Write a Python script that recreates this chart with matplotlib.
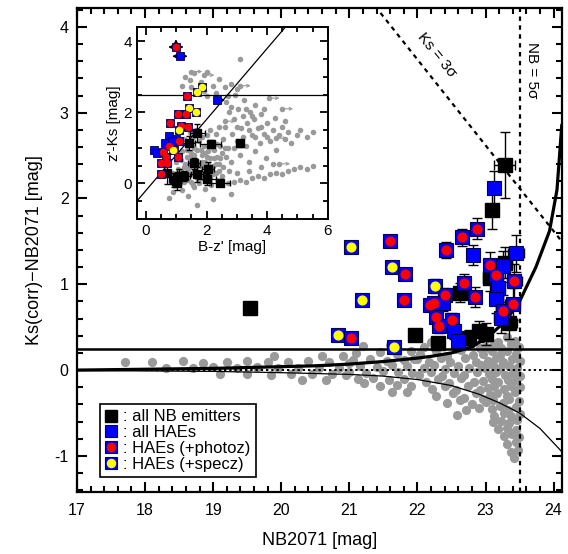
import numpy as np
import matplotlib.pyplot as plt
from matplotlib.ticker import MultipleLocator
from matplotlib.lines import Line2D

plt.rcParams['font.family'] = ['Liberation Sans', 'DejaVu Sans']
plt.rcParams['axes.unicode_minus'] = False

# ---- main panel data (NB2071 vs Ks-NB2071) ----
# field galaxies (grey)
grey_main = np.array([
    # bright end, NB < 21
    (17.7, 0.10), (18.1, 0.09), (18.3, 0.03), (18.55, 0.11), (18.7, 0.02), (18.85, 0.08),
    (19.0, 0.04), (19.1, -0.05), (19.2, 0.10), (19.35, 0.02), (19.5, 0.11), (19.5, -0.04),
    (19.65, 0.04), (19.8, 0.09), (19.85, -0.06), (19.9, 0.17), (19.95, 0.02), (20.1, 0.10),
    (20.15, -0.05), (20.25, 0.03), (20.3, -0.12), (20.4, 0.11), (20.45, -0.04), (20.55, 0.02),
    (20.6, 0.17), (20.65, -0.12), (20.7, 0.09), (20.75, -0.05), (20.85, 0.03), (20.9, 0.16),
    (20.95, -0.06), (21.0, 0.08),
    # 21 - 22
    (21.1, 0.20), (21.45, 0.21), (21.7, 0.19), (21.9, 0.22), (21.05, 0.12), (21.3, 0.13),
    (21.55, 0.11), (21.8, 0.12), (21.95, 0.13), (21.15, 0.05), (21.4, 0.04), (21.62, 0.06),
    (21.85, 0.05), (21.0, -0.02), (21.25, -0.03), (21.5, -0.01), (21.72, -0.02), (21.92, -0.03),
    (21.12, -0.10), (21.35, -0.09), (21.58, -0.11), (21.8, -0.10), (21.45, -0.18), (21.7, -0.17),
    (21.9, -0.19), (21.62, -0.26), (21.85, -0.25), (21.2, 0.28), (21.6, 0.29), (21.22, -0.15),
    # 22 - 23
    (22.1, 0.27), (22.33, 0.31), (22.57, 0.25), (22.73, 0.32), (22.92, 0.26),
    (22.04, 0.19), (22.27, 0.22), (22.43, 0.17), (22.64, 0.23), (22.82, 0.18),
    (22.0, 0.13), (22.17, 0.10), (22.34, 0.14), (22.48, 0.09), (22.7, 0.14), (22.86, 0.10),
    (22.09, 0.02), (22.24, 0.06), (22.41, 0.01), (22.6, 0.05), (22.76, 0.02), (22.93, 0.06),
    (22.03, -0.06), (22.2, -0.02), (22.36, -0.07), (22.54, -0.03), (22.68, -0.06), (22.88, -0.02),
    (22.12, -0.14), (22.3, -0.10), (22.47, -0.15), (22.64, -0.09), (22.83, -0.14),
    (22.22, -0.22), (22.4, -0.18), (22.57, -0.23), (22.74, -0.18), (22.92, -0.23),
    (22.28, -0.30), (22.52, -0.27), (22.68, -0.32), (22.86, -0.27),
    (22.43, -0.38), (22.62, -0.35), (22.8, -0.40), (22.97, -0.34), (22.72, -0.47), (22.9, -0.44),
    (22.58, -0.52), (22.2, 0.33), (22.95, 0.37),
    # 23 - 23.5, dense faint end
    (23.04, 0.37), (23.19, 0.33), (23.31, 0.39), (23.43, 0.34),
    (23.0, 0.27), (23.13, 0.30), (23.23, 0.26), (23.37, 0.30), (23.49, 0.27),
    (22.97, 0.19), (23.09, 0.22), (23.21, 0.18), (23.31, 0.22), (23.45, 0.19),
    (23.03, 0.11), (23.15, 0.14), (23.25, 0.10), (23.39, 0.13), (23.5, 0.11),
    (22.99, 0.03), (23.11, 0.06), (23.21, 0.02), (23.35, 0.05), (23.46, 0.03),
    (23.05, -0.05), (23.15, -0.02), (23.29, -0.06), (23.41, -0.03), (23.51, -0.07),
    (22.96, -0.13), (23.09, -0.10), (23.19, -0.14), (23.33, -0.11), (23.45, -0.12),
    (23.03, -0.21), (23.13, -0.19), (23.27, -0.22), (23.37, -0.18), (23.5, -0.20),
    (23.07, -0.29), (23.17, -0.27), (23.31, -0.30), (23.43, -0.26),
    (23.01, -0.37), (23.11, -0.35), (23.25, -0.38), (23.35, -0.34), (23.49, -0.36),
    (23.09, -0.45), (23.21, -0.42), (23.33, -0.46), (23.45, -0.43),
    (23.13, -0.53), (23.27, -0.50), (23.37, -0.54), (23.5, -0.51),
    (23.11, -0.61), (23.23, -0.59), (23.35, -0.62), (23.47, -0.58),
    (23.19, -0.69), (23.31, -0.67), (23.45, -0.70),
    (23.27, -0.77), (23.39, -0.75), (23.49, -0.78),
    (23.31, -0.86), (23.45, -0.84), (23.37, -0.95), (23.48, -0.93), (23.42, -1.03),
])

hae_x = [22.88, 22.66, 22.42, 22.81, 21.60, 21.63, 21.82, 21.81, 21.65, 22.26, 22.41, 22.37,
         22.18, 22.25, 22.28, 22.31, 22.51, 22.54, 22.60, 22.69, 22.84, 23.07, 23.16, 23.26,
         23.45, 23.42, 23.19, 23.16, 23.40, 23.26, 23.23, 21.19, 20.84, 21.02, 21.03, 23.13]
hae_y = [1.65, 1.55, 1.40, 1.34, 1.50, 1.20, 1.12, 0.82, 0.27, 0.98, 0.87, 0.78,
         0.76, 0.78, 0.62, 0.51, 0.58, 0.45, 0.34, 1.01, 0.85, 1.22, 1.11, 1.21,
         1.36, 1.04, 0.96, 0.83, 0.77, 0.69, 0.61, 0.82, 0.41, 0.37, 1.44, 2.12]
hae_type = ['p', 'p', 'p', 'n', 'p', 's', 'p', 'p', 's', 's', 'p', 'n',
            'p', 'p', 'p', 'p', 'p', 'n', 'n', 'p', 'p', 'p', 'p', 'n',
            'n', 'p', 'n', 'n', 'p', 'p', 'n', 's', 's', 'p', 's', 'n']
hae_xerr = [0.08, 0.06, 0.05, 0.07, 0.02, 0.02, 0.03, 0.03, 0.02, 0.04, 0.05, 0.05,
            0.04, 0.04, 0.04, 0.05, 0.05, 0.05, 0.06, 0.06, 0.07, 0.09, 0.09, 0.10,
            0.12, 0.11, 0.10, 0.09, 0.11, 0.10, 0.10, 0.02, 0.01, 0.02, 0.02, 0.08]
hae_yerr = [0.12, 0.10, 0.09, 0.12, 0.04, 0.04, 0.05, 0.05, 0.03, 0.08, 0.09, 0.09,
            0.07, 0.07, 0.07, 0.08, 0.09, 0.09, 0.10, 0.11, 0.12, 0.16, 0.17, 0.18,
            0.22, 0.20, 0.17, 0.16, 0.19, 0.18, 0.18, 0.03, 0.02, 0.03, 0.04, 0.20]

nb_x = [19.54, 21.97, 22.30, 22.76, 22.91, 22.62, 23.06, 23.29, 23.28, 23.10, 23.00, 23.35]
nb_y = [0.72, 0.41, 0.31, 0.37, 0.45, 0.90, 1.07, 1.25, 2.39, 1.86, 0.42, 0.55]
nb_xerr = [0.01, 0.03, 0.04, 0.06, 0.07, 0.06, 0.09, 0.10, 0.16, 0.09, 0.08, 0.11]
nb_yerr = [0.02, 0.05, 0.06, 0.10, 0.12, 0.11, 0.15, 0.18, 0.38, 0.22, 0.13, 0.19]

# 3-sigma colour-excess curves
sig_up_x = [17.0, 18.0, 19.0, 20.0, 20.5, 21.0, 21.5, 22.0, 22.2, 22.5, 22.8, 23.06, 23.3,
            23.5, 23.74, 23.94, 24.05, 24.12]
sig_up_y = [0.0, 0.01, 0.02, 0.04, 0.05, 0.07, 0.10, 0.14, 0.16, 0.20, 0.27, 0.40, 0.58,
            0.80, 1.20, 1.62, 2.10, 2.85]
sig_lo_x = [17.0, 19.0, 20.0, 21.0, 21.5, 22.0, 22.5, 22.9, 23.2, 23.5, 23.8, 24.12]
sig_lo_y = [-0.005, -0.015, -0.03, -0.05, -0.07, -0.11, -0.18, -0.28, -0.38, -0.50, -0.68, -0.95]
ew_cut = 0.25
nb_lim = 23.5
ks_lim = 25.62

# ---- inset data (B-z' vs z'-Ks) ----
grey_in = np.array([
    (0.9, 0.3), (1.0, 0.6), (1.1, 0.1), (1.2, 0.9), (1.25, 0.45), (1.3, 0.2), (1.35, 0.75),
    (1.4, 1.1), (1.45, 0.5), (1.5, 0.05), (1.5, 0.85), (1.55, 1.3), (1.6, 0.35), (1.65, 0.65),
    (1.7, 0.95), (1.7, 0.15), (1.75, 1.2), (1.8, 0.5), (1.85, 0.8), (1.9, 0.25), (1.9, 1.05),
    (1.95, 0.6), (2.0, 1.35), (2.0, 0.4), (2.05, 0.9), (2.1, 0.15), (2.1, 0.7), (2.15, 1.15),
    (2.2, 0.5), (2.25, 0.95), (2.3, 0.3), (2.3, 1.4), (2.35, 0.75), (2.4, 0.55), (2.45, 1.05),
    (2.5, 0.2), (2.5, 0.85), (2.55, 1.25), (1.2, -0.2), (1.4, -0.35), (1.6, -0.1), (0.9, -0.25),
    (1.05, 0.85), (1.15, 0.35), (1.3, 0.55), (1.45, 0.25), (1.55, 0.7), (1.65, 0.45),
    (1.75, 0.3), (1.85, 0.6), (1.95, 0.1), (2.05, 0.55), (2.15, 0.35), (2.25, 0.7), (1.35, 0.95),
    (1.6, 1.0), (1.8, 0.15), (2.0, 0.75), (2.2, 1.0), (2.4, 0.35),
    (1.15, 0.65), (1.25, 0.05), (1.4, 0.4), (1.5, 0.6), (1.6, 0.8), (1.7, 0.55), (1.8, 0.95),
    (1.9, 0.45), (2.0, 0.2), (2.1, 1.05), (2.2, 0.25), (2.3, 0.55), (2.35, 1.1), (2.45, 0.7),
    (2.55, 0.45), (2.6, 1.0), (1.35, 0.1), (1.55, -0.05), (1.75, 0.0), (1.95, -0.15),
    (2.15, -0.05), (1.25, 1.25), (1.45, 1.45), (1.65, 1.5), (1.85, 1.3), (2.1, 1.5),
    (2.4, 1.6), (2.65, 0.75), (2.75, 0.35), (1.05, 0.4), (1.45, 0.75), (1.95, 0.85),
    (2.6, 1.6), (2.7, 1.0), (2.75, 2.0), (2.8, 0.6), (2.85, 1.4), (2.9, 1.8), (3.0, 1.2),
    (3.05, 2.1), (3.1, 0.8), (3.15, 1.55), (3.2, 1.9), (3.3, 1.05), (3.35, 1.7), (3.4, 0.6),
    (3.45, 2.0), (3.5, 1.35), (3.55, 1.8), (3.6, 0.9), (3.7, 1.55), (3.75, 1.15), (3.8, 1.95),
    (3.9, 1.4), (3.95, 0.7), (4.0, 1.7), (4.1, 1.2), (4.2, 1.5), (4.3, 0.95), (4.4, 1.35),
    (4.5, 1.6), (4.6, 1.25), (4.7, 1.45), (4.8, 1.15), (5.0, 1.35), (5.1, 1.5), (5.3, 1.3),
    (5.5, 1.45), (2.65, 2.3), (2.95, 2.5), (3.25, 2.35), (3.6, 2.2), (3.9, 2.1), (4.25, 1.85),
    (4.6, 1.75), (2.9, 1.0), (3.0, 1.6), (3.2, 1.3), (3.4, 1.5), (3.6, 1.3), (3.8, 1.6),
    (4.0, 1.3), (3.3, 2.1), (3.5, 1.9), (2.8, 2.15),
    (1.3, 3.0), (1.45, 2.9), (1.6, 3.1), (1.8, 2.85), (2.0, 3.15), (2.2, 2.75), (2.4, 2.95),
    (2.6, 2.7), (2.8, 2.8), (1.5, 2.7), (1.9, 2.6), (2.3, 2.55), (3.1, 3.5), (2.0, 2.45),
    (1.2, 2.75), (2.7, 2.45), (3.0, 2.65),
    (2.7, 0.0), (2.9, 0.05), (3.1, 0.1), (3.3, 0.05), (3.5, 0.15), (3.7, 0.2), (3.9, 0.15),
    (4.1, 0.25), (4.3, 0.3), (4.5, 0.25), (4.7, 0.35), (4.9, 0.4), (5.1, 0.45), (5.3, 0.4),
    (5.5, 0.5), (3.0, 0.3), (3.4, 0.35), (3.8, 0.45), (4.2, 0.55), (2.8, -0.3), (2.2, -0.45),
    (1.7, -0.6), (0.75, -0.4),
])
# grey objects with only a lower limit on B-z'
arrow_in = np.array([
    (1.5, 3.15), (1.9, 3.05), (3.1, 2.75), (4.05, 2.4), (4.5, 2.1), (4.3, 1.27),
    (4.4, 0.55), (2.6, 1.75),
])

in_nb_x = [1.70, 1.42, 2.14, 3.10, 1.59, 2.05, 1.68, 1.10, 1.24, 0.91, 1.02, 2.00, 2.46, 0.71]
in_nb_y = [1.41, 1.13, 1.11, 1.13, 0.56, 0.40, 0.25, 0.21, 0.21, 0.09, 0.02, 0.11, 0.02, 0.28]
in_nb_xerr = [0.25, 0.2, 0.35, 0.1, 0.2, 0.2, 0.2, 0.2, 0.2, 0.15, 0.15, 0.3, 0.3, 0.3]
in_nb_yerr = [0.25, 0.2, 0.1, 0.1, 0.15, 0.2, 0.2, 0.2, 0.15, 0.2, 0.2, 0.15, 0.1, 0.3]

in_hae_x = [0.99, 1.12, 1.86, 1.70, 1.37, 2.35, 1.42, 1.64, 1.07, 1.31, 0.79, 1.15, 1.39,
            1.10, 1.10, 0.77, 0.93, 0.88, 0.27, 0.38, 0.55, 0.66, 1.06, 0.49, 0.71, 0.49,
            0.77, 0.62, 1.00, 0.85]
in_hae_y = [3.84, 3.58, 2.71, 2.57, 2.47, 2.35, 2.12, 2.00, 1.96, 1.96, 1.69, 1.62, 1.60,
            1.51, 1.18, 1.05, 0.94, 0.94, 0.94, 0.85, 0.87, 0.75, 0.75, 0.56, 0.58, 0.26,
            1.32, 1.15, 1.25, 1.20]
in_hae_type = ['p', 'n', 's', 's', 'p', 'n', 's', 's', 'p', 'p', 'p', 'p', 'p',
               's', 'p', 'p', 'p', 's', 'n', 'n', 'p', 'p', 'p', 'p', 'p', 'p',
               'n', 'n', 'n', 'n']

fill_col = {'p': 'red', 's': 'yellow'}

fig = plt.figure(figsize=(5.68, 5.54), dpi=100)
ax = fig.add_axes([0.1356, 0.112, 0.8534, 0.8736])

ax.scatter(grey_main[:, 0], grey_main[:, 1], s=44, color='#9a9a9a', lw=0, zorder=1)

ax.plot(sig_up_x, sig_up_y, color='k', lw=2.3, zorder=2)
ax.plot(sig_lo_x, sig_lo_y, color='k', lw=0.9, zorder=2)
ax.axhline(ew_cut, color='k', lw=1.8, zorder=2)
ax.axhline(0, color='k', lw=1.4, ls=(0, (1.2, 1.5)), zorder=2)
ax.axvline(nb_lim, color='k', lw=1.6, ls=(0, (2, 2)), zorder=2)
xx = np.array([17, 24.2])
ax.plot(xx, ks_lim - xx, color='k', lw=1.6, ls=(0, (2, 2)), zorder=2)

ax.errorbar(nb_x, nb_y, xerr=nb_xerr, yerr=nb_yerr, fmt='none', ecolor='k',
            elinewidth=1, capsize=3.5, zorder=3)
ax.errorbar(hae_x, hae_y, xerr=hae_xerr, yerr=hae_yerr, fmt='none', ecolor='k',
            elinewidth=1, capsize=3.5, zorder=3)
ax.plot(nb_x, nb_y, 's', color='k', ms=9.5, zorder=4)
ax.plot(hae_x, hae_y, 's', mfc='#0000ff', mec='#000050', mew=0.8, ms=9.5, zorder=5)
for x, y, t in zip(hae_x, hae_y, hae_type):
    if t in fill_col:
        ax.plot(x, y, 'o', mfc=fill_col[t], mec=fill_col[t], ms=6.3, zorder=6)

ax.text(22.28, 3.67, 'Ks = 3\u03c3', rotation=-51, fontsize=11, ha='center', va='center')
ax.text(23.68, 3.5, 'NB = 5\u03c3', rotation=-90, fontsize=11, ha='center', va='center')

ax.set_xlim(17, 24.12)
ax.set_ylim(-1.42, 4.22)
ax.xaxis.set_major_locator(MultipleLocator(1))
ax.xaxis.set_minor_locator(MultipleLocator(0.2))
ax.yaxis.set_major_locator(MultipleLocator(1))
ax.yaxis.set_minor_locator(MultipleLocator(0.2))
ax.tick_params(which='both', direction='in', top=True, right=True, width=1.5, labelsize=11.5)
ax.tick_params(which='major', length=7.5)
ax.tick_params(which='minor', length=4)
ax.tick_params(axis='x', pad=8)
ax.tick_params(axis='y', pad=6)
for s in ax.spines.values():
    s.set_linewidth(1.6)
ax.set_xlabel('NB2071 [mag]', fontsize=13, labelpad=10)
ax.set_ylabel('Ks(corr)\u2212NB2071 [mag]', fontsize=13, labelpad=8)

h_nb = Line2D([], [], ls='none', marker='s', mfc='k', mec='k', ms=8.5)
h_hae = Line2D([], [], ls='none', marker='s', mfc='#0000ff', mec='#000050', mew=0.8, ms=8.5)
h_red = Line2D([], [], ls='none', marker='o', mfc='red', mec='red', ms=5.8)
h_yel = Line2D([], [], ls='none', marker='o', mfc='yellow', mec='yellow', ms=5.8)
leg = ax.legend([h_nb, h_hae, (h_hae, h_red), (h_hae, h_yel)],
                [': all NB emitters', ': all HAEs', ': HAEs (+photoz)', ': HAEs (+specz)'],
                loc='lower left', bbox_to_anchor=(0.047, 0.031), borderaxespad=0,
                fontsize=12, handlelength=0.8, handletextpad=0.3, labelspacing=0.05,
                borderpad=0.3, fancybox=False, framealpha=1, edgecolor='k')
leg.get_frame().set_linewidth(1.2)

# ---- inset ----
ai = fig.add_axes([0.241, 0.605, 0.336, 0.346])
ai.scatter(grey_in[:, 0], grey_in[:, 1], s=16, color='#9a9a9a', lw=0, zorder=1)
ai.scatter(arrow_in[:, 0], arrow_in[:, 1], s=16, color='#9a9a9a', lw=0, zorder=1)
for x, y in arrow_in:
    ai.annotate('', xy=(x + 0.45, y), xytext=(x, y),
                arrowprops=dict(arrowstyle='->', color='#9a9a9a', lw=0.8, mutation_scale=5))
xl = np.array([-0.3, 6.0])
ai.plot(xl, xl - 0.2, color='k', lw=0.9, zorder=2)
ai.axhline(2.5, color='k', lw=0.9, zorder=2)

ai.errorbar(in_nb_x, in_nb_y, xerr=in_nb_xerr, yerr=in_nb_yerr, fmt='none', ecolor='k',
            elinewidth=0.9, capsize=2.5, zorder=3)
ai.plot(in_nb_x, in_nb_y, 's', color='k', ms=5.8, zorder=4)
for dx, dy in [(-0.35, 0), (0.35, 0), (0, 0.3)]:
    ai.annotate('', xy=(in_hae_x[0] + dx, in_hae_y[0] + dy), xytext=(in_hae_x[0], in_hae_y[0]),
                arrowprops=dict(arrowstyle='-|>', color='k', lw=1, mutation_scale=6), zorder=3)
for dx in [-0.35, 0.35]:
    ai.annotate('', xy=(in_hae_x[1] + dx, in_hae_y[1]), xytext=(in_hae_x[1], in_hae_y[1]),
                arrowprops=dict(arrowstyle='-|>', color='k', lw=1, mutation_scale=6), zorder=3)
ai.annotate('', xy=(in_hae_x[5] + 0.35, in_hae_y[5]), xytext=(in_hae_x[5], in_hae_y[5]),
            arrowprops=dict(arrowstyle='-|>', color='k', lw=1, mutation_scale=6), zorder=3)
ai.plot(in_hae_x, in_hae_y, 's', mfc='#0000ff', mec='#000050', mew=0.6, ms=6.3, zorder=5)
for x, y, t in zip(in_hae_x, in_hae_y, in_hae_type):
    if t in fill_col:
        ai.plot(x, y, 'o', mfc=fill_col[t], mec=fill_col[t], ms=4.4, zorder=6)

ai.set_xlim(-0.3, 6.0)
ai.set_ylim(-1.0, 4.4)
ai.xaxis.set_major_locator(MultipleLocator(2))
ai.xaxis.set_minor_locator(MultipleLocator(0.5))
ai.yaxis.set_major_locator(MultipleLocator(2))
ai.yaxis.set_minor_locator(MultipleLocator(0.5))
ai.tick_params(which='both', direction='in', top=True, right=True, width=1.3, labelsize=11)
ai.tick_params(which='major', length=6)
ai.tick_params(which='minor', length=3.5)
for s in ai.spines.values():
    s.set_linewidth(1.4)
ai.set_xlabel("B-z' [mag]", fontsize=11, labelpad=2)
ai.set_ylabel("z'-Ks [mag]", fontsize=11, labelpad=2)

fig.savefig('out.png', dpi=100)
